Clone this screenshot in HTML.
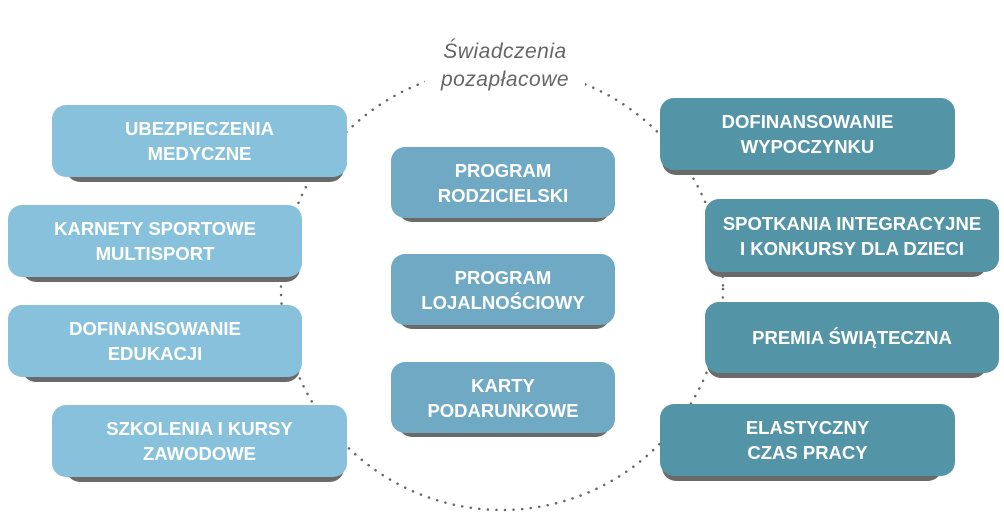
<!DOCTYPE html>
<html><head><meta charset="utf-8"><style>
body{margin:0;width:1004px;height:531px;background:#fff;position:relative;overflow:hidden;font-family:"Liberation Sans",sans-serif}
.b{position:absolute;height:72px;border-radius:14px;color:#fff;font-weight:bold;font-size:18.5px;line-height:25px;display:flex;align-items:center;justify-content:center;text-align:center;z-index:2}
.s{position:absolute;height:18px;background:#6a6a6a;border-radius:0 0 14px 14px;z-index:1}
.l{background:#88c1db}.c{background:#6fa9c3}.r{background:#5394a7}
svg{position:absolute;left:0;top:0}
.t{position:absolute;left:425px;top:38px;width:160px;text-align:center;font-family:"Liberation Sans",sans-serif;font-style:italic;color:#666;font-size:21px;line-height:28px;background:#fff;z-index:3;letter-spacing:0.5px}
</style></head><body>
<svg width="1004" height="531"><circle cx="502" cy="289" r="221" fill="none" stroke="#666" stroke-width="2.5" stroke-dasharray="0.1 8.5" stroke-linecap="round"/></svg>
<div class="t">Świadczenia<br>pozapłacowe</div>

<div class="s" style="left:66px;width:278px;top:164px"></div><div class="b l" style="left:52px;width:295px;top:105px">UBEZPIECZENIA<br>MEDYCZNE</div>
<div class="s" style="left:22px;width:278px;top:264px"></div><div class="b l" style="left:8px;width:294px;top:205px">KARNETY SPORTOWE<br>MULTISPORT</div>
<div class="s" style="left:22px;width:278px;top:364px"></div><div class="b l" style="left:8px;width:294px;top:305px">DOFINANSOWANIE<br>EDUKACJI</div>
<div class="s" style="left:66px;width:278px;top:464px"></div><div class="b l" style="left:52px;width:295px;top:405px">SZKOLENIA I KURSY<br>ZAWODOWE</div>

<div class="s" style="left:398px;width:212px;top:204px"></div><div class="b c" style="left:391px;width:224px;top:147px;height:71px">PROGRAM<br>RODZICIELSKI</div>
<div class="s" style="left:398px;width:212px;top:311px"></div><div class="b c" style="left:391px;width:224px;top:254px;height:71px">PROGRAM<br>LOJALNOŚCIOWY</div>
<div class="s" style="left:398px;width:212px;top:419px"></div><div class="b c" style="left:391px;width:224px;top:362px;height:71px">KARTY<br>PODARUNKOWE</div>

<div class="s" style="left:662px;width:280px;top:157px"></div><div class="b r" style="left:660px;width:295px;top:98px">DOFINANSOWANIE<br>WYPOCZYNKU</div>
<div class="s" style="left:707px;width:280px;top:259px"></div><div class="b r" style="left:705px;width:294px;top:199px;height:73px">SPOTKANIA INTEGRACYJNE<br>I KONKURSY DLA DZIECI</div>
<div class="s" style="left:707px;width:280px;top:360px"></div><div class="b r" style="left:705px;width:294px;top:302px;height:71px">PREMIA ŚWIĄTECZNA</div>
<div class="s" style="left:662px;width:280px;top:463px"></div><div class="b r" style="left:660px;width:295px;top:404px">ELASTYCZNY<br>CZAS PRACY</div>
</body></html>
